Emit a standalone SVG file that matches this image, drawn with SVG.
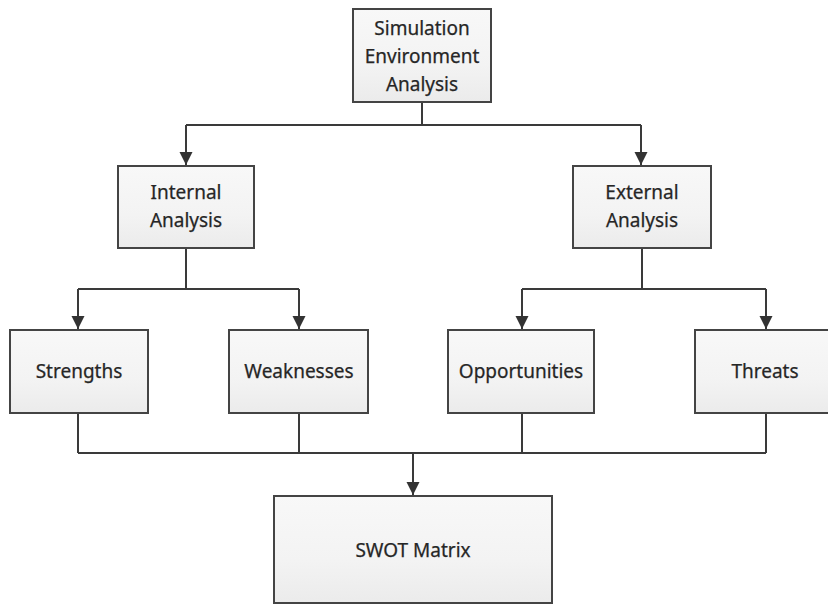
<svg xmlns="http://www.w3.org/2000/svg" width="828" height="605" viewBox="0 0 828 605">
<defs>
<linearGradient id="g" x1="0" y1="0" x2="0" y2="1">
<stop offset="0" stop-color="#f8f8f8"/>
<stop offset="0.6" stop-color="#f3f3f3"/>
<stop offset="1" stop-color="#ebebeb"/>
</linearGradient>
<marker id="ah" viewBox="0 0 10 10" refX="10" refY="5" markerWidth="6.5" markerHeight="7" orient="auto" markerUnits="strokeWidth">
<path d="M0,0 L10,5 L0,10 Z" fill="#333"/>
</marker>
</defs>
<style>
.box{fill:url(#g);stroke:#444;stroke-width:2}
.t{font-family:"Noto Sans","Open Sans",sans-serif;font-size:19px;fill:#262626;text-anchor:middle;stroke:#262626;stroke-width:0.25}
.c{fill:none;stroke:#3a3a3a;stroke-width:2}
</style>
<rect width="828" height="605" fill="#fff"/>
<g id="connectors">
<path class="c" d="M422,102 V125"/>
<path class="c" d="M186,125 H641"/>
<path class="c" d="M186,125 V165" marker-end="url(#ah)"/>
<path class="c" d="M641,125 V165" marker-end="url(#ah)"/>
<path class="c" d="M186,248 V289"/>
<path class="c" d="M78,289 H299"/>
<path class="c" d="M78,289 V329" marker-end="url(#ah)"/>
<path class="c" d="M299,289 V329" marker-end="url(#ah)"/>
<path class="c" d="M642,248 V289"/>
<path class="c" d="M522,289 H766"/>
<path class="c" d="M522,289 V329" marker-end="url(#ah)"/>
<path class="c" d="M766,289 V329" marker-end="url(#ah)"/>
<path class="c" d="M78,413 V453"/>
<path class="c" d="M299,413 V453"/>
<path class="c" d="M522,413 V453"/>
<path class="c" d="M766,413 V453"/>
<path class="c" d="M78,453 H766"/>
<path class="c" d="M413,453 V495" marker-end="url(#ah)"/>
</g>
<g id="sim">
<rect class="box" x="353" y="9" width="138" height="93"/>
<text class="t" x="422" y="35">Simulation</text>
<text class="t" x="422" y="63">Environment</text>
<text class="t" x="422" y="91">Analysis</text>
</g>
<g id="internal">
<rect class="box" x="118" y="166" width="136" height="82"/>
<text class="t" x="186" y="199">Internal</text>
<text class="t" x="186" y="227">Analysis</text>
</g>
<g id="external">
<rect class="box" x="573" y="166" width="138" height="82"/>
<text class="t" x="642" y="199">External</text>
<text class="t" x="642" y="227">Analysis</text>
</g>
<g id="strengths">
<rect class="box" x="10" y="330" width="138" height="83"/>
<text class="t" x="79" y="378">Strengths</text>
</g>
<g id="weaknesses">
<rect class="box" x="229" y="330" width="139" height="83"/>
<text class="t" x="299" y="378">Weaknesses</text>
</g>
<g id="opportunities">
<rect class="box" x="448" y="330" width="146" height="83"/>
<text class="t" x="521" y="378">Opportunities</text>
</g>
<g id="threats">
<rect class="box" x="695" y="330" width="142" height="83"/>
<text class="t" x="765" y="378">Threats</text>
</g>
<g id="swot">
<rect class="box" x="274" y="496" width="278" height="107"/>
<text class="t" x="413" y="557">SWOT Matrix</text>
</g>
</svg>
